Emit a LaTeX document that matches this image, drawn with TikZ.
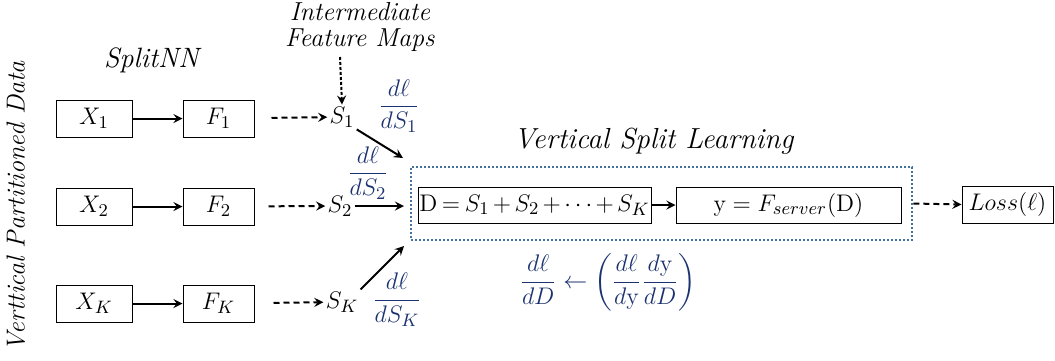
\documentclass[tikz,border=0pt]{standalone}
\usepackage{amsmath}
\usetikzlibrary{arrows,positioning}
\definecolor{navy}{RGB}{28,50,112}
\definecolor{steel}{RGB}{65,113,156}

\begin{document}
\begin{tikzpicture}[x=0.5pt, y=-0.5pt, >=stealth, font=\fontsize{13}{15}\selectfont]
    % Styles
    \tikzstyle{block} = [rectangle, draw, fill=white, line width=0.5pt, minimum height=18.5pt, inner sep=2pt]
    \tikzstyle{line} = [draw, ->, line width=1pt]
    \tikzstyle{dline} = [draw, ->, line width=1pt, dash pattern=on 3pt off 2pt]
    \tikzstyle{grad} = [text=navy, inner sep=0pt]
    \useasboundingbox (0,0) rectangle (1055,360);

    % Nodes
    \node [block, minimum width=38pt] (X1) at (94,118.5) {$X_1$};
    \node [block, minimum width=35.5pt, right=25pt of X1] (F1) {$F_1$};
    \node [block, minimum width=38pt, below=25pt of X1] (X2) {$X_2$};
    \node [block, minimum width=35.5pt, right=25pt of X2] (F2) {$F_2$};
    \node [block, minimum width=38pt, below=29.5pt of X2] (XK) {$X_K$};
    \node [block, minimum width=35.5pt, right=25pt of XK] (FK) {$F_K$};
    \node [inner sep=1pt] (S1) at (342,117) {$S_1$};
    \node [inner sep=1pt] (S2) at (340,206) {$S_2$};
    \node [inner sep=1pt] (SK) at (342,302) {$S_K$};
    \node [draw=steel, line width=1.3pt, dash pattern=on 1pt off 1pt, minimum width=250.5pt, minimum height=36.5pt] (vsl) at (661.5,203.5) {};
    \node [block, minimum width=116.5pt, minimum height=18pt, inner sep=0pt, font=\fontsize{12.2}{14}\selectfont] (D) at (534.5,205) {\medmuskip=2.5mu\thickmuskip=3.5mu $\mathrm{D} = S_1 + S_2 + \cdots + S_K$};
    \node [block, minimum width=112.5pt, minimum height=18pt] (Y) at (788.5,205) {$\mathrm{y} = F_{server}(\mathrm{D})$};
    \node [block, minimum width=45.5pt] (loss) at (1007.5,204.5) {$Loss(\ell)$};
    \coordinate (in1) at (403,158);
    \coordinate (in2) at (404,206);
    \coordinate (inK) at (404,246);

    % Labels
    \node [font=\fontsize{14}{15}\selectfont] (splitnn) at (153,60) {\textit{SplitNN}};
    \node [align=center, inner sep=1pt, font=\fontsize{13}{13}\selectfont] (fmaps) at (360,27) {\textit{Intermediate}\\ \textit{Feature Maps}};
    \node [font=\fontsize{14.5}{15}\selectfont] (vsltitle) at (654,141) {\textit{Vertical Split Learning}};
    \node [rotate=90] (vpd) at (16,206) {\textit{Verttical Partitioned Data}};
    \node [grad] (g1) at (399,106) {$\dfrac{d\ell}{dS_1}$};
    \node [grad] (g2) at (368,173) {$\dfrac{d\ell}{dS_2}$};
    \node [grad] (gK) at (397,300) {$\dfrac{d\ell}{dS_K}$};
    \node [grad] (gD) at (608,282) {$\dfrac{d\ell}{dD} \leftarrow \left(\dfrac{d\ell}{d\mathrm{y}}\dfrac{d\mathrm{y}}{dD}\right)$};

    % Clients
    \path [line] (X1) -- (F1);
    \path [line] (X2) -- (F2);
    \path [line] (XK) -- (FK);
    \path [dline, shorten <=8.5pt] (F1) -- (S1);
    \path [dline, shorten <=7pt] (F2) -- (S2);
    \path [dline, shorten <=9.5pt] (FK) -- (SK);
    \draw [->, line width=1pt, dash pattern=on 1.5pt off 1pt] (340,57) -- (S1.north);

    % Server
    \path [line] (S1.south east) -- (in1);
    \path [line] (S2.east) -- (in2);
    \path [line] (SK.north east) -- (inK);
    \path [line] (D) -- (Y);
    \path [dline] (vsl.east) -- (loss.west);

\end{tikzpicture}
\end{document}
